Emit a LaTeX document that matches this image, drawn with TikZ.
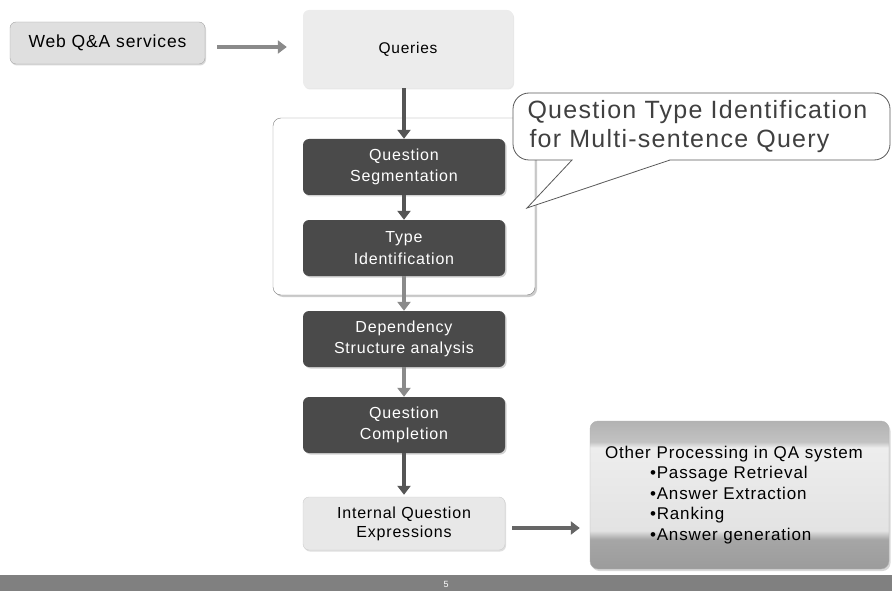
\documentclass[tikz,border=0pt]{standalone}
\usepackage{fontspec}
\setmainfont{Liberation Sans}[LetterSpace=5]
\usetikzlibrary{calc, positioning}
\usetikzlibrary{arrows.meta}
\usetikzlibrary{shadows}

\definecolor{darkbox}{HTML}{4A4A4A}
\definecolor{lightbox}{HTML}{E6E6E6}
\definecolor{arrdark}{HTML}{555555}
\definecolor{arrlight}{HTML}{8A8A8A}
\definecolor{barcol}{HTML}{808080}
\pgfdeclareverticalshading{otherfill}{100bp}{color(0bp)=(gray!78); color(25bp)=(gray!78);
  color(35bp)=(gray!70); color(38bp)=(gray!22); color(66bp)=(gray!14); color(68bp)=(gray!48);
  color(75bp)=(gray!60); color(100bp)=(gray!60)}

\begin{document}
\begin{tikzpicture}[x=1pt, y=-1pt,
  stepdark/.style={rounded corners=6pt, fill=darkbox, text=white, minimum width=202pt,
    minimum height=56pt, align=center, font=\fontsize{16}{21.5}\selectfont,
    drop shadow={shadow xshift=1.5pt, shadow yshift=-1.5pt, fill=gray!70}},
  steplight/.style={rounded corners=6pt, fill=lightbox, text=black, align=center,
    font=\fontsize{16}{19}\selectfont},
  flow/.style={line width=4.5pt, -{Triangle[length=9pt, width=13pt]}}]
\def\colx{404}
\useasboundingbox (0,0) rectangle (892,591);
% group frame round the two first steps
\draw[gray, rounded corners=8pt, fill=white,
  drop shadow={shadow xshift=2pt, shadow yshift=-2pt, fill=gray!80}] (273,118) rectangle (535,295);
% source and queries
\node[steplight, draw=gray!70, fill=gray!25, minimum width=195pt, minimum height=42pt,
  font=\fontsize{17.5}{20}\selectfont,
  drop shadow={shadow xshift=1pt, shadow yshift=-1.5pt, fill=gray!60}] (web) at (107.5,43) {Web Q\&A services};
\node[steplight, fill=gray!15, minimum width=210pt, minimum height=78pt,
  font=\fontsize{15.5}{18}\selectfont,
  drop shadow={shadow xshift=1pt, shadow yshift=-1.5pt, fill=gray!35}] (queries) at (408,49) {Queries};
% dark processing steps
\node[stepdark] (seg) at (\colx,167) {Question\\Segmentation};
\node[stepdark] (type) at (\colx,248) {Type\\Identification};
\node[stepdark] (dep) at (\colx,339) {Dependency\\Structure analysis};
\node[stepdark] (comp) at (\colx,425) {Question\\Completion};
\node[steplight, draw=gray!40, fill=gray!18, minimum width=202pt, minimum height=53pt,
  drop shadow={shadow xshift=1pt, shadow yshift=-1.5pt, fill=gray!50}] (internal) at (\colx,523.5) {Internal Question\\Expressions};
% other processing
\node[rounded corners=8pt, minimum width=299pt, minimum height=148pt, align=left,
  shading=otherfill, draw=gray!60, inner xsep=15pt, text width=269pt,
  font=\fontsize{17}{20.5}\selectfont, text=black,
  drop shadow={shadow xshift=1.5pt, shadow yshift=-2pt, fill=gray!60}] (other) at (739.5,495)
  {Other Processing in QA system\\
   \hspace*{45pt}\textbullet Passage Retrieval\\
   \hspace*{45pt}\textbullet Answer Extraction\\
   \hspace*{45pt}\textbullet Ranking\\
   \hspace*{45pt}\textbullet Answer generation};
% connectors
\coordinate (webout) at ($(web.east)+(12,4)$);
\coordinate (qin) at ($(queries.west)+(-16,-2)$);
\draw[flow, arrlight] (webout) -- (qin);
\draw[flow, arrdark] (queries.south -| seg.north) -- (seg.north);
\draw[flow, arrdark] (seg) -- (type);
\draw[flow, arrlight] (type) -- (dep);
\draw[flow, arrlight] (dep) -- (comp);
\draw[flow, arrdark] (comp) -- ($(internal.north)+(0,-2)$);
\coordinate (intout) at ($(internal.east)+(7,4.5)$);
\coordinate (oin) at ($(other.west)+(-10,33)$);
\draw[flow, arrdark!90] (intout) -- (oin);
% callout
\coordinate (tip) at (527,208);
\draw[gray!70!black, fill=white, line width=0.8pt]
  (572,160) -- (tip) -- (670,160)
  [rounded corners=16pt] -- (890,160) -- (890,93) -- (513,93) -- (513,160) [sharp corners] -- cycle;
\node[align=left, text=black!75, font=\fontsize{25}{29}\selectfont, anchor=west] (callout) at (524,127)
  {Question Type Identification\\ \hspace*{2pt}for Multi-sentence Query};
% page footer
\fill[barcol] (0,575) rectangle (892,591);
\node[text=white, font=\fontsize{9}{10}\selectfont] (page) at (446,584) {5};
\end{tikzpicture}
\end{document}
